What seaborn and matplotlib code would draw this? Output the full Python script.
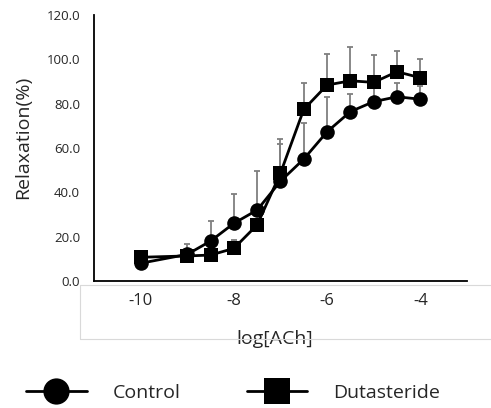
import numpy as np
import pandas as pd
import matplotlib
matplotlib.use("Agg")
import matplotlib.pyplot as plt
from matplotlib.lines import Line2D
import seaborn as sns

# ── data ──────────────────────────────────────────────────────────────────────
log_ach = [-10, -9, -8.5, -8, -7.5, -7, -6.5, -6, -5.5, -5, -4.5, -4]
control = [8.0, 12.0, 18.0, 26.0, 32.0, 45.0, 55.0, 67.3, 76.4, 80.9, 83.1, 82.0]
control_err = [1.0, 2.0, 9.0, 13.2, 17.6, 16.7, 16.4, 15.8, 8.0, 6.0, 6.0, 6.0]
dutasteride = [10.7, 11.3, 11.7, 14.7, 25.3, 48.6, 77.4, 88.4, 90.3, 89.6, 94.4, 91.7]
dutasteride_err = [1.0, 5.4, 1.0, 3.8, 2.0, 15.4, 12.0, 14.0, 15.4, 12.3, 9.5, 8.3]
groups = ["Control", "Dutasteride"]
x_ticks = [-10, -8, -6, -4]
y_ticks = [0, 20, 40, 60, 80, 100, 120]

sns.set_theme(style="white")
plt.rcParams["font.family"] = ["Open Sans", "DejaVu Sans"]

df = pd.DataFrame({
    "logACh": log_ach * 2,
    "relax": control + dutasteride,
    "err": control_err + dutasteride_err,
    "group": [groups[0]] * len(log_ach) + [groups[1]] * len(log_ach),
})

fig = plt.figure(figsize=(4.91, 4.08), dpi=100)
ax = fig.add_axes([0.1914, 0.3113, 0.7596, 0.652])

# upper-only error bars, drawn behind the markers
for g in groups:
    sub = df[df["group"] == g]
    ax.errorbar(sub["logACh"], sub["relax"], yerr=[np.zeros(len(sub)), sub["err"]],
                fmt="none", ecolor="#7f7f7f", elinewidth=1.3, capsize=2.2,
                capthick=1.3, zorder=1)

sns.lineplot(data=df, x="logACh", y="relax", hue="group", style="group",
             markers={"Control": "o", "Dutasteride": "s"}, dashes=False,
             palette={"Control": "black", "Dutasteride": "black"},
             markersize=10.5, linewidth=2, markeredgewidth=0, ax=ax, zorder=3)

ax.set_xlim(-11, -3)
ax.set_ylim(0, 120)
ax.set_xticks(x_ticks)
ax.set_xticklabels([str(t) for t in x_ticks], fontsize=12)
ax.set_yticks(y_ticks)
ax.set_yticklabels([f"{t:.1f}" for t in y_ticks], fontsize=9.5)
ax.tick_params(axis="both", length=0)
ax.tick_params(axis="x", pad=9)
ax.tick_params(axis="y", pad=10)

for side in ["top", "right"]:
    ax.spines[side].set_visible(False)
for side in ["left", "bottom"]:
    ax.spines[side].set_color("black")
    ax.spines[side].set_linewidth(1.3)

ax.set_xlabel("log[ACh]", fontsize=14)
ax.set_ylabel("Relaxation(%)", fontsize=14)
ax.xaxis.set_label_coords(0.485, -0.183)
ax.yaxis.set_label_coords(-0.165, 0.54)

handles, labels = ax.get_legend_handles_labels()
ax.get_legend().remove()
fig.legend(handles, labels, loc="center", bbox_to_anchor=(0.475, 0.037),
           ncol=2, frameon=False, fontsize=14, markerscale=1.8,
           handlelength=3.1, handletextpad=1.35, columnspacing=3.4)

# faint chart-area border left over from the source figure
grey = "#d9d9d9"
fig.add_artist(Line2D([80 / 491, 1], [1 - 285 / 408] * 2, color=grey, lw=0.8,
                      transform=fig.transFigure))
fig.add_artist(Line2D([80 / 491, 1], [1 - 339 / 408] * 2, color=grey, lw=0.8,
                      transform=fig.transFigure))
fig.add_artist(Line2D([80 / 491] * 2, [1 - 285 / 408, 1 - 339 / 408], color=grey,
                      lw=0.8, transform=fig.transFigure))

fig.savefig("out.png", dpi=100)
